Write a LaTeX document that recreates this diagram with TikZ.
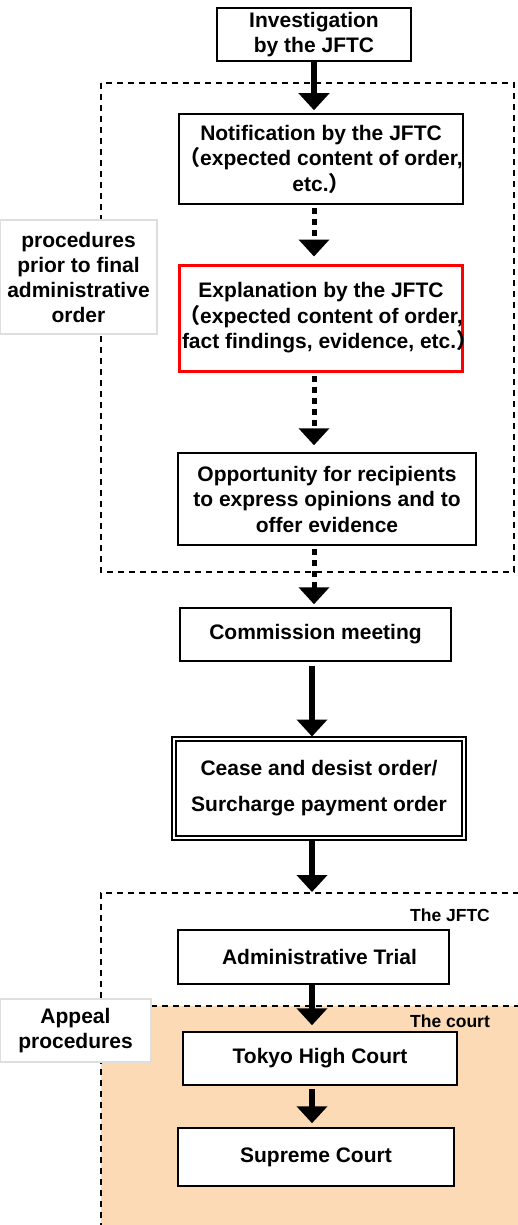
\documentclass[tikz,border=0pt]{standalone}
\usepackage{fontspec}
\setmainfont{Liberation Sans}
\newfontfamily\cjk{Noto Sans CJK JP}
\usetikzlibrary{arrows.meta}
\newcommand{\FlowTipType}{Triangle[width=30pt,length=17pt]}
\newcommand{\lpar}{{\cjk （}}
\newcommand{\rpar}{{\cjk ）}}
\definecolor{courtfill}{RGB}{252,218,182}
\definecolor{labelgray}{RGB}{222,222,222}
\tikzset{
	procbox/.style={draw,fill=white,line width=1.5pt,align=center,inner sep=0pt,
		font=\fontsize{21}{25.5}\selectfont\bfseries},
	labelbox/.style={draw=labelgray,line width=1.5pt,fill=white,align=center,inner sep=0pt,
		font=\fontsize{21}{25}\selectfont\bfseries},
	tagtext/.style={font=\fontsize{17.5}{20}\selectfont\bfseries},
	solidflow/.style={-{\FlowTipType},line width=6pt},
	dottedflow/.style={-{\FlowTipType},line width=5pt,dash pattern=on 6pt off 5pt},
	groupline/.style={line width=1.5pt,dash pattern=on 6pt off 5pt}
}

\begin{document}
\begin{tikzpicture}[x=1pt,y=-1pt]
	\useasboundingbox (0,0) rectangle (518,1225);
	\clip (0,0) rectangle (518,1225);

	% groups
	\fill[courtfill] (101,1006) rectangle (530,1240);
	\draw[groupline] (101,83) rectangle (514,572);
	\draw[groupline] (530,893) -- (101,893) -- (101,1240);
	\draw[groupline] (151,1006) -- (530,1006);

	\node[labelbox,minimum width=157pt,minimum height=114pt] (prior) at (78.5,277)
		{procedures\\prior to final\\administrative\\order};
	\node[labelbox,minimum width=151pt,minimum height=63pt] (appeal) at (75.5,1030.5)
		{Appeal\\procedures};

	\node[tagtext] (jftc) at (450,915) {The JFTC};
	\node[tagtext] (court) at (450,1021) {The court};

	% flow
	\node[procbox,minimum width=194pt,minimum height=53pt] (invest) at (314,34.5)
		{Investigation\\by the JFTC};
	\node[procbox,minimum width=280pt,minimum height=90pt] (notif) at (321,159)
		{Notification by the JFTC\\\lpar expected content of order,\\etc.\rpar};
	\node[procbox,draw=red,line width=3pt,minimum width=282pt,minimum height=106pt] (explain) at (321,318)
		{Explanation by the JFTC\\\lpar expected content of order,\\\makebox[278pt][l]{fact findings, evidence, etc.\rpar}};
	\node[procbox,minimum width=298pt,minimum height=92pt] (opinion) at (327,499)
		{Opportunity for recipients\\to express opinions and to\\offer evidence};
	\node[procbox,minimum width=271pt,minimum height=53pt] (meeting) at (315.5,634.5)
		{Commission meeting};
	\node[procbox,double,line width=2pt,double distance=2pt,minimum width=290pt,minimum height=99pt] (order) at (319,788)
		{Cease and desist order/\\[10pt]Surcharge payment order};
	\node[procbox,minimum width=271pt,minimum height=54pt] (trial) at (313.5,957)
		{\hspace*{12pt}Administrative Trial};
	\node[procbox,minimum width=274pt,minimum height=53pt] (tokyo) at (320,1058.5)
		{Tokyo High Court};
	\node[procbox,minimum width=276pt,minimum height=58pt] (supreme) at (316,1157)
		{Supreme Court};

	\coordinate (appealtop) at (312,893);

	\draw[solidflow,shorten >=3pt] (invest.south) -- (invest.south |- notif.north);
	\draw[dottedflow,shorten <=3pt,shorten >=7pt] (invest.south |- notif.south) -- (invest.south |- explain.north);
	\draw[dottedflow,shorten <=3pt,shorten >=7pt] (invest.south |- explain.south) -- (invest.south |- opinion.north);
	\draw[dottedflow,shorten <=3pt,shorten >=3pt] (invest.south |- opinion.south) -- (invest.south |- meeting.north);
	\draw[solidflow,shorten <=4pt,shorten >=1pt] (appealtop |- meeting.south) -- (appealtop |- order.north);
	\draw[solidflow,shorten >=1pt] (appealtop |- order.south) -- (appealtop);
	\draw[solidflow,shorten >=6pt] (appealtop |- trial.south) -- (appealtop |- tokyo.north);
	\draw[solidflow,shorten <=3pt,shorten >=4pt] (appealtop |- tokyo.south) -- (appealtop |- supreme.north);
\end{tikzpicture}
\end{document}
